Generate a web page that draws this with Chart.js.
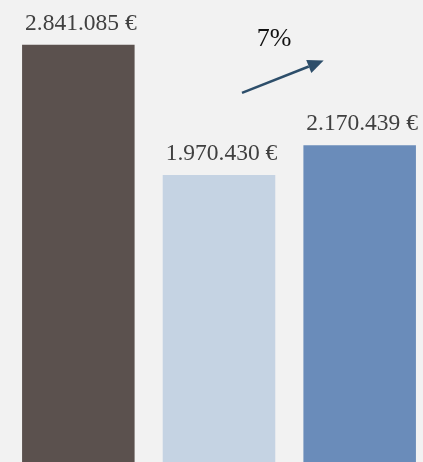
<!DOCTYPE html>
<html>
<head>
<meta charset="utf-8">
<script src="https://cdn.jsdelivr.net/npm/chart.js@4"></script>
<style>
html,body{margin:0;padding:0;background:#f2f2f2;width:423px;height:462px;overflow:hidden;}
#wrap{position:absolute;left:8px;top:0;width:422px;height:470px;}
</style>
</head>
<body>
<div id="wrap"><canvas id="c"></canvas></div>
<script>
const categories = ["A", "B", "C"];
const values = [2841085, 1970430, 2170439];
const barColors = ["#5b514e", "#c5d3e3", "#6a8cba"];
const growthLabel = "7%";

function fmt(v){
  return String(v).replace(/\B(?=(\d{3})+(?!\d))/g, ".") + " €";
}

const labelsPlugin = {
  id: "labels",
  afterDatasetsDraw(chart){
    const ctx = chart.ctx;
    const meta = chart.getDatasetMeta(0);
    ctx.save();
    ctx.font = "23.5px 'Liberation Serif', 'Times New Roman', serif";
    ctx.fillStyle = "#404040";
    ctx.textAlign = "center";
    ctx.textBaseline = "alphabetic";
    meta.data.forEach((bar, i) => {
      ctx.fillText(fmt(values[i]), bar.x + 2.5, bar.y - 15);
    });
    // arrow between bar 2 and bar 3
    const y = chart.scales.y;
    const b2 = meta.data[1], b3 = meta.data[2];
    const x0 = b2.x + 23, y0 = y.getPixelForValue(2520000);
    const x1 = b3.x - 36, y1 = y.getPixelForValue(2735000);
    const ang = Math.atan2(y1 - y0, x1 - x0);
    const hl = 16, hw = 7;
    const bx = x1 - hl * Math.cos(ang), by = y1 - hl * Math.sin(ang);
    ctx.strokeStyle = "#2d4e6a";
    ctx.fillStyle = "#2d4e6a";
    ctx.lineWidth = 2.5;
    ctx.beginPath();
    ctx.moveTo(x0, y0);
    ctx.lineTo(bx, by);
    ctx.stroke();
    ctx.beginPath();
    ctx.moveTo(x1, y1);
    ctx.lineTo(bx + hw * Math.sin(ang), by - hw * Math.cos(ang));
    ctx.lineTo(bx - hw * Math.sin(ang), by + hw * Math.cos(ang));
    ctx.closePath();
    ctx.fill();
    ctx.font = "26px 'Liberation Serif', 'Times New Roman', serif";
    ctx.fillStyle = "#111111";
    ctx.fillText(growthLabel, b2.x + 55, y.getPixelForValue(2830000));
    ctx.restore();
  }
};

new Chart(document.getElementById("c"), {
  type: "bar",
  data: {
    labels: categories,
    datasets: [{
      data: values,
      backgroundColor: barColors,
      borderWidth: 0,
      barPercentage: 0.8,
      categoryPercentage: 1.0
    }]
  },
  options: {
    responsive: true,
    maintainAspectRatio: false,
    animation: false,
    layout: { padding: 0 },
    plugins: { legend: { display: false }, tooltip: { enabled: false } },
    scales: {
      x: { display: false },
      y: { display: false, min: 0, max: 3140000 }
    }
  },
  plugins: [labelsPlugin]
});
</script>
</body>
</html>
